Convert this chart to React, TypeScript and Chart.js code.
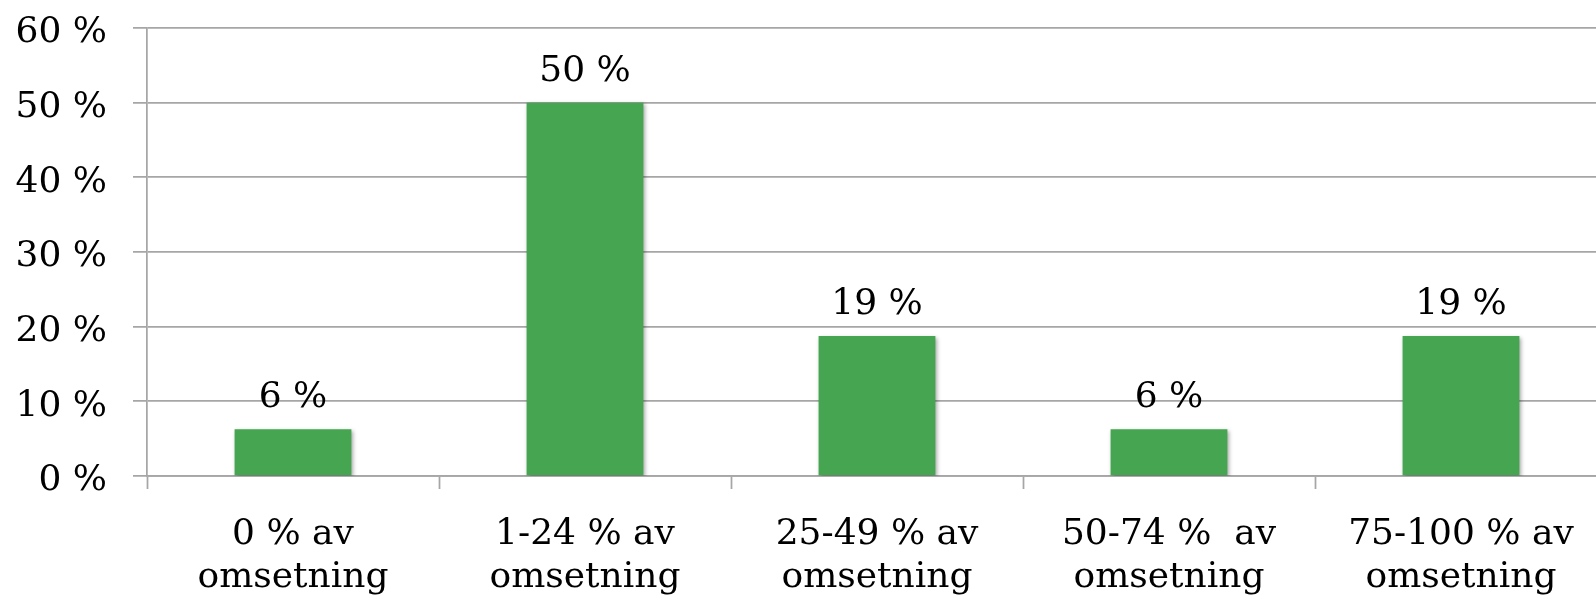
import React, { useEffect, useRef } from "react";
import { Chart, registerables } from "chart.js";

Chart.register(...registerables);

const categories: string[][] = [
  ["0 % av", "omsetning"],
  ["1-24 % av", "omsetning"],
  ["25-49 % av", "omsetning"],
  ["50-74 %  av", "omsetning"],
  ["75-100 % av", "omsetning"],
];
const shares: number[] = [6.25, 50, 18.75, 6.25, 18.75];
const yMin = 0;
const yMax = 60;
const yStep = 10;

const FONT = "'DejaVu Serif', 'Liberation Serif', serif";
const FS = 36;
const GRID = "#a6a6a6";
const GREEN = "#46a550";

const shadowPlugin = {
  id: "barShadow",
  beforeDatasetsDraw(chart: any) {
    const ctx = chart.ctx;
    ctx.save();
    ctx.shadowColor = "rgba(0,0,0,0.35)";
    ctx.shadowBlur = 4;
    ctx.shadowOffsetX = 1.5;
    ctx.shadowOffsetY = 1.5;
  },
  afterDatasetsDraw(chart: any) {
    chart.ctx.restore();
  },
};

const valueLabelPlugin = {
  id: "valueLabels",
  afterDraw(chart: any) {
    const ctx = chart.ctx;
    const meta = chart.getDatasetMeta(0);
    const data = chart.data.datasets[0].data as number[];
    ctx.save();
    ctx.font = `${FS}px ${FONT}`;
    ctx.fillStyle = "#000";
    ctx.textAlign = "center";
    ctx.textBaseline = "alphabetic";
    meta.data.forEach((bar: any, i: number) => {
      ctx.fillText(`${Math.round(data[i])} %`, bar.x, bar.y - 22);
    });
    ctx.restore();
  },
};

export default function App() {
  const ref = useRef<HTMLCanvasElement | null>(null);

  useEffect(() => {
    if (!ref.current) return;
    const chart = new Chart(ref.current, {
      type: "bar",
      data: {
        labels: categories,
        datasets: [
          {
            data: shares,
            backgroundColor: GREEN,
            borderWidth: 0,
            categoryPercentage: 1,
            barPercentage: 0.4,
          },
        ],
      },
      options: {
        animation: false,
        responsive: false,
        devicePixelRatio: 1,
        layout: { padding: { top: 28, right: 13, left: 0, bottom: 0 } },
        plugins: {
          legend: { display: false },
          tooltip: { enabled: false },
        },
        scales: {
          x: {
            grid: {
              display: true,
              drawOnChartArea: false,
              drawTicks: true,
              tickLength: 13,
              tickWidth: 1.75,
              tickColor: GRID,
              offset: true,
            },
            border: { display: true, color: GRID, width: 1.75 },
            ticks: {
              color: "#000",
              font: { family: FONT, size: FS, lineHeight: 1.2 },
              padding: 24,
              maxRotation: 0,
              autoSkip: false,
            },
            afterFit: (scale: any) => {
              scale.height = 127;
            },
          },
          y: {
            min: yMin,
            max: yMax,
            grid: {
              color: GRID,
              lineWidth: 1.75,
              drawTicks: true,
              tickLength: 14,
            },
            border: { display: true, color: GRID, width: 1.75 },
            ticks: {
              stepSize: yStep,
              color: "#000",
              font: { family: FONT, size: FS },
              padding: 26,
              labelOffset: 5,
              callback: (v: any) => `${v} %`,
            },
            afterFit: (scale: any) => {
              scale.width = 147;
              scale.paddingTop = 0;
              scale.paddingBottom = 0;
            },
          },
        },
      },
      plugins: [shadowPlugin, valueLabelPlugin],
    });
    return () => chart.destroy();
  }, []);

  return (
    <div
      style={{
        position: "fixed",
        left: 0,
        top: 0,
        width: 1596,
        height: 603,
        overflow: "hidden",
        background: "#fff",
      }}
    >
      <canvas
        ref={ref}
        width={1620}
        height={603}
        style={{ width: 1620, height: 603, display: "block" }}
      />
    </div>
  );
}
